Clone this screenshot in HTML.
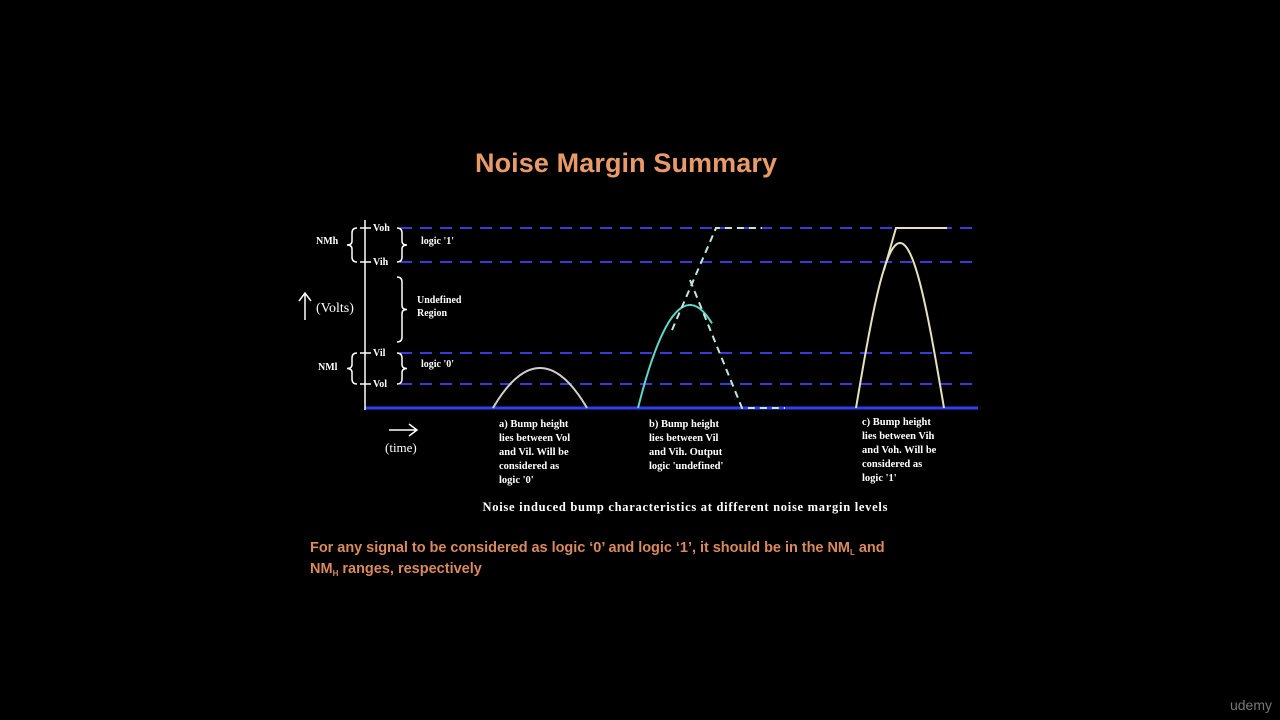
<!DOCTYPE html>
<html><head><meta charset="utf-8"><style>
body{margin:0;background:#000;width:1280px;height:720px;overflow:hidden;font-family:"Liberation Sans",sans-serif}
svg{position:absolute;left:0;top:0}
</style></head><body>
<svg width="1280" height="720">
<text x="626" y="172" text-anchor="middle" fill="#e89a68" font-size="27" font-weight="bold" font-family="Liberation Sans,sans-serif" textLength="302">Noise Margin Summary</text>
<g id="plot"></g>
<g font-family="Liberation Serif,serif" fill="#fff" font-size="10" font-weight="bold">
<text x="316" y="244">NMh</text>
<text x="318" y="370">NMl</text>
<text x="316" y="312" font-size="14" font-weight="normal">(Volts)</text>
<text x="421" y="244">logic '1'</text>
<text x="417" y="303">Undefined</text>
<text x="417" y="316">Region</text>
<text x="421" y="367">logic '0'</text>
<text x="385" y="452" font-size="13" font-weight="normal">(time)</text>
<g font-size="10.5"><text x="499" y="427">a) Bump height</text><text x="499" y="441">lies between Vol</text><text x="499" y="455">and Vil. Will be</text><text x="499" y="469">considered as</text><text x="499" y="483">logic '0'</text></g>
<g font-size="10.5"><text x="649" y="427">b) Bump height</text><text x="649" y="441">lies between Vil</text><text x="649" y="455">and Vih. Output</text><text x="649" y="469">logic 'undefined'</text></g>
<g font-size="10.5"><text x="862" y="425">c) Bump height</text><text x="862" y="439">lies between Vih</text><text x="862" y="453">and Voh. Will be</text><text x="862" y="467">considered as</text><text x="862" y="481">logic '1'</text></g>
<text x="685" y="511" text-anchor="middle" font-size="12.5" textLength="405">Noise induced bump characteristics at different noise margin levels</text>
</g>
<g fill="#d98a5e" font-size="14.5" font-weight="bold" font-family="Liberation Sans,sans-serif">
<text x="310" y="552"><tspan textLength="540">For any signal to be considered as logic ‘0’ and logic ‘1’, it should be in the NM</tspan><tspan font-size="8" dy="3">L</tspan><tspan dy="-3"> and</tspan></text>
<text x="310" y="573">NM<tspan font-size="8" dy="3">H</tspan><tspan dy="-3"> ranges, respectively</tspan></text>
</g>
<text x="1272" y="710" text-anchor="end" fill="#777" font-size="14">udemy</text>
</svg>
<script>
const levelNames=["Vol","Vil","Vih","Voh"];
const levelValues=[24,55,146,180];
const bumpPeaks=[40,103,165];
const bumpCenters=[540,690,900];
const bumpHalfWidths=[47,52,44];
const NS="http://www.w3.org/2000/svg";
const g=document.getElementById('plot');
const y=v=>408-v;
function mk(t,a){const e=document.createElementNS(NS,t);for(const k in a)e.setAttribute(k,a[k]);g.appendChild(e);return e;}
let e;
levelValues.forEach((v,i)=>{
 e=mk('line',{x1:400,x2:978,y1:y(v),y2:y(v),stroke:'#3a3ad8','stroke-width':2,'stroke-dasharray':'12 8'});
 
 
 e=mk('line',{x1:360,x2:371,y1:y(v),y2:y(v),stroke:'#fff','stroke-width':1.5});
 
 
 const t=mk('text',{x:373,y:y(v)+3,fill:'#fff','font-size':10,'font-weight':'bold','font-family':'Liberation Serif,serif'});
 t.textContent=levelNames[i];
 
 
});
e=mk('line',{x1:365,x2:978,y1:408,y2:408,stroke:'#2f3ff0','stroke-width':3});

e=mk('line',{x1:365,x2:365,y1:220,y2:410,stroke:'#fff','stroke-width':1.5});

function brace(x,y1,y2,dir,name){const m=(y1+y2)/2,d=dir*5;
 e=mk('path',{d:`M${x+d},${y1} Q${x},${y1} ${x},${y1+5} L${x},${m-4} Q${x},${m} ${x-d},${m} Q${x},${m} ${x},${m+4} L${x},${y2-5} Q${x},${y2} ${x+d},${y2}`,fill:'none',stroke:'#fff','stroke-width':1.5});
 }
brace(352,y(180),y(146),1,'nmh-brace');brace(352,y(55),y(24),1,'nml-brace');
brace(402,y(180),y(146),-1,'logic1-brace');brace(402,277,342,-1,'undefined-brace');brace(402,y(55),y(24),-1,'logic0-brace');
e=mk('path',{d:'M305,320 L305,294 M299,301 L305,293 L311,301',stroke:'#fff','stroke-width':1.5,fill:'none'});

e=mk('path',{d:'M389,430 L416,430 M409,424 L417,430 L409,436',stroke:'#fff','stroke-width':1.5,fill:'none'});

const cols=['#cfcfcf','#5fd6c8','#e6e2c0'];
bumpPeaks.forEach((p,i)=>{
 const mx=bumpCenters[i],hw=bumpHalfWidths[i];
 const xEnd=i==1?mx+22:mx+hw;
 let d='';
 for(let x=mx-hw;x<=xEnd;x+=1){const u=(x-mx)/hw;const v=i==2?p*Math.cos(u*Math.PI/2):p*(1-u*u);d+=(d?'L':'M')+x+','+y(v).toFixed(1);}
 e=mk('path',{d:d,fill:'none',stroke:cols[i],'stroke-width':2});
 
});
e=mk('path',{d:`M672,330 L716,${y(180)} L762,${y(180)} M690,280 L742,408 L785,408`,fill:'none',stroke:'#bfe8dc','stroke-width':2,'stroke-dasharray':'7 5'});

e=mk('path',{d:`M884,270 L896,${y(180)} L947,${y(180)}`,fill:'none',stroke:'#e6e2c0','stroke-width':2});

</script>
</body></html>
